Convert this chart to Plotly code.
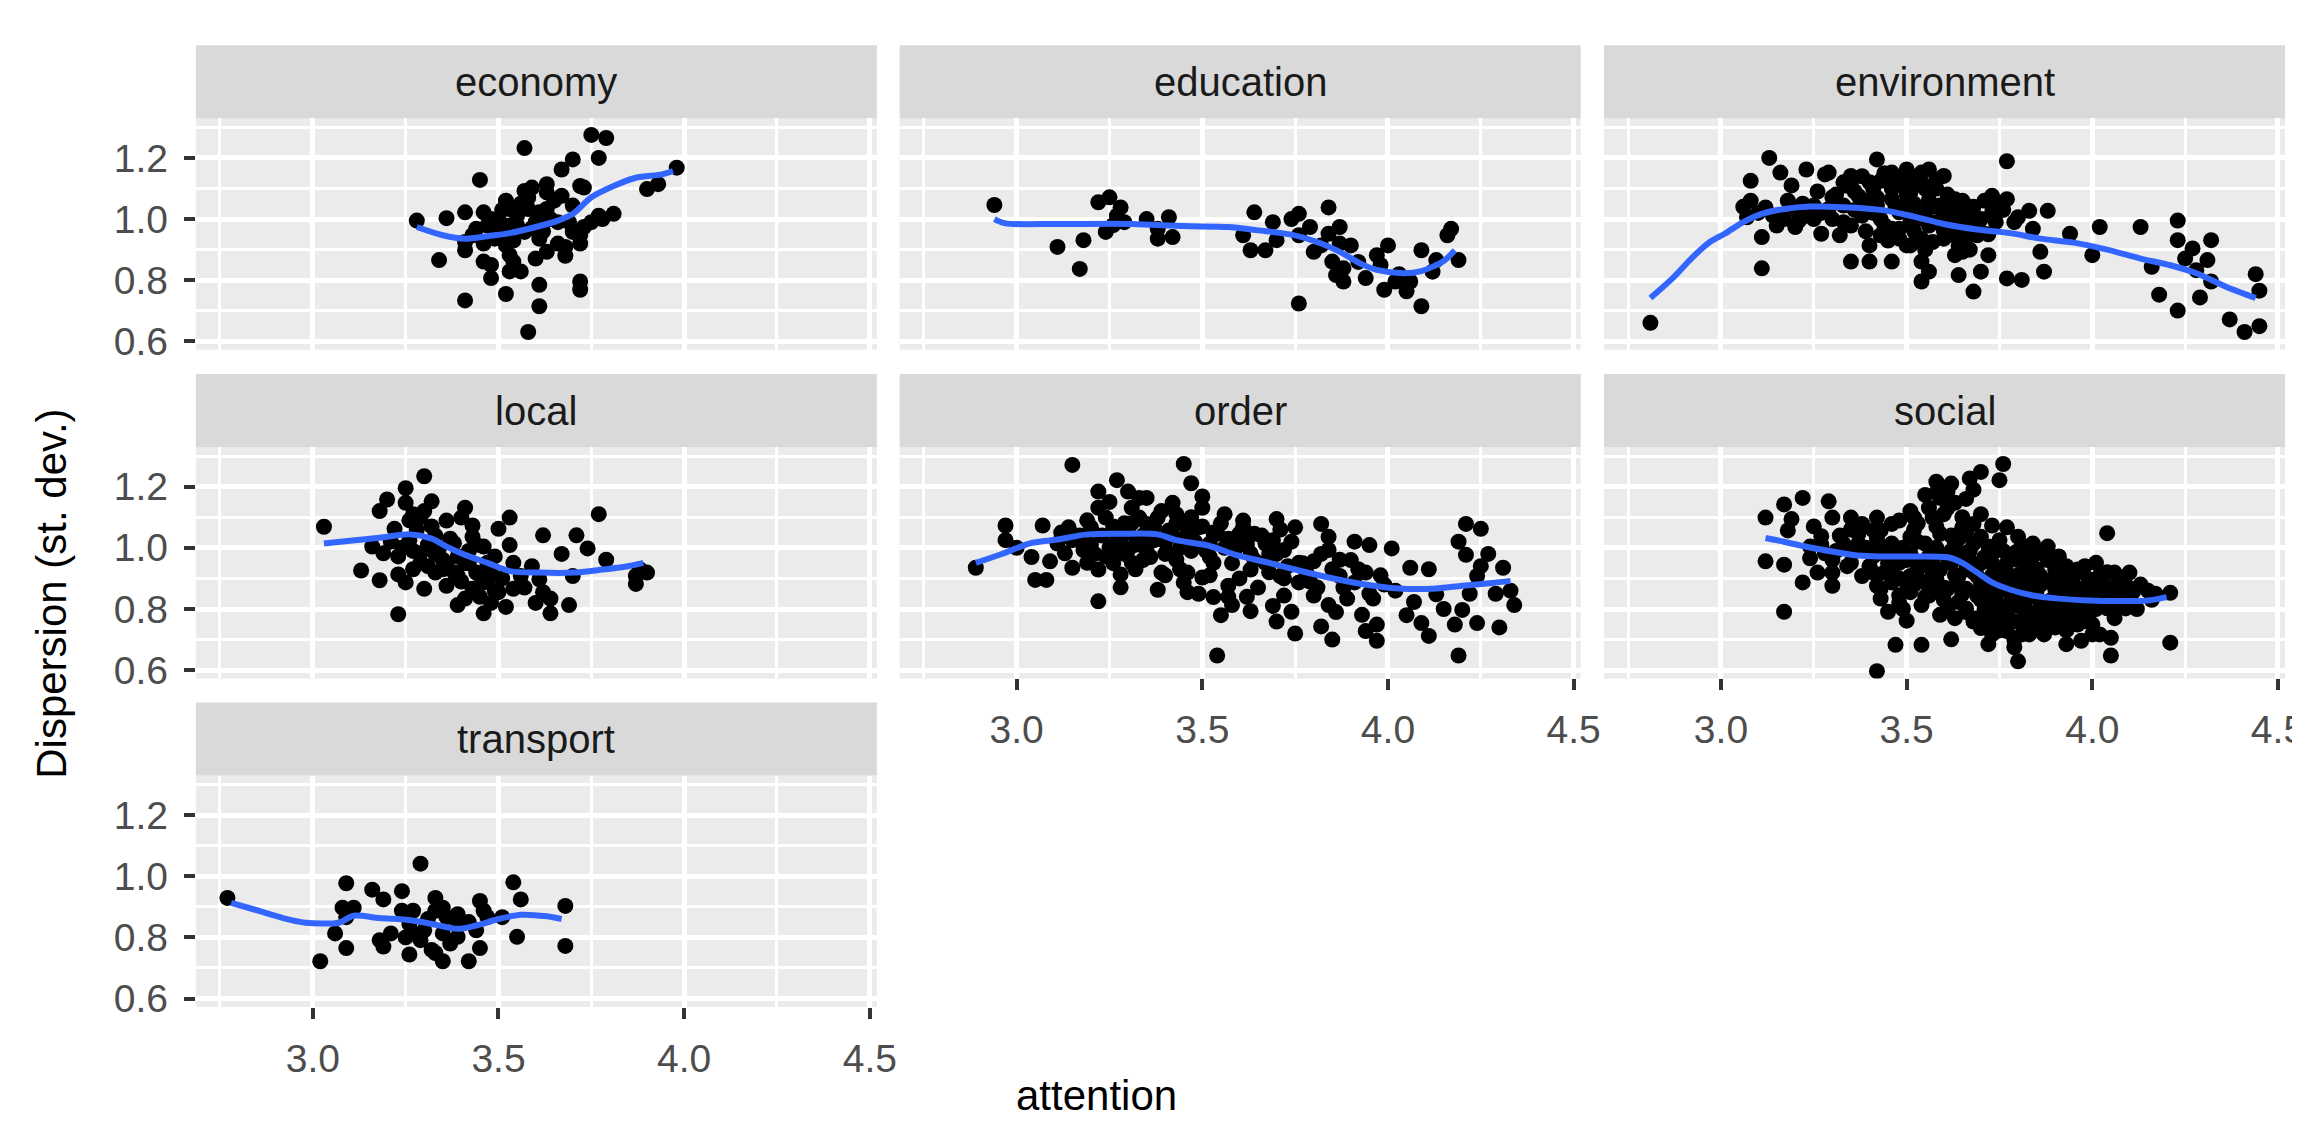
import plotly.graph_objects as go

# ---------------- data ----------------
facets = ["economy", "education", "environment", "local", "order", "social", "transport"]

economy_pts = [(3.28,0.995),(3.36,1.003),(3.41,1.022),(3.45,1.128),(3.46,1.022),(3.57,1.232),(3.34,0.866),(3.41,0.898),(3.41,0.734),(3.46,0.861),(3.48,0.850),(3.48,0.807),(3.52,0.755),(3.53,0.829),(3.56,0.829),(3.61,0.785),(3.61,0.715),(3.58,0.631),(3.60,0.871),(3.63,0.893),(3.68,0.909),(3.72,0.920),(3.72,0.796),(3.72,0.769),(3.70,0.958),(3.73,0.974),(3.77,1.011),(3.81,1.017),(3.73,1.103),(3.72,1.108),(3.67,1.076),(3.63,1.087),(3.63,1.114),(3.59,1.103),(3.57,1.092),(3.67,1.162),(3.70,1.195),(3.77,1.200),(3.75,1.275),(3.79,1.265),(3.98,1.168),(3.93,1.114),(3.90,1.098),
(3.52,1.06),(3.53,1.033),(3.50,1.0),(3.55,1.011),(3.58,1.033),(3.61,1.022),(3.64,1.0),(3.53,0.979),(3.57,0.958),(3.50,0.947),(3.52,0.914),(3.49,0.936),(3.44,0.968),(3.47,0.979),(3.43,0.947),(3.61,0.936),(3.60,0.990),(3.53,0.882),(3.54,0.861),(3.46,0.920),(3.41,0.925),(3.66,0.990),(3.63,1.033),(3.70,1.044),(3.69,0.990),(3.72,0.947),(3.75,0.990),(3.78,1.0),
(3.51,0.97),(3.55,0.98),(3.56,1.05),(3.59,0.97),(3.62,0.96),(3.65,1.06),(3.54,0.93),(3.48,1.0),(3.51,1.03),(3.58,1.07),(3.66,0.92),(3.68,0.88)]

education_pts = [(2.94,1.046),(3.11,0.909),(3.18,0.931),(3.17,0.837),(3.22,1.055),(3.25,1.071),(3.28,1.038),(3.24,0.958),(3.26,0.98),(3.27,1.011),(3.35,1.0),(3.41,1.006),(3.38,0.936),(3.42,0.941),(3.38,0.968),(3.61,0.947),(3.64,1.022),(3.63,0.898),(3.67,0.898),(3.70,0.931),(3.69,0.990),(3.74,1.0),(3.76,1.017),(3.84,1.038),(3.79,0.974),(3.80,0.893),(3.84,0.952),(3.87,0.974),(3.87,0.920),(3.85,0.861),(3.88,0.839),(3.86,0.817),(3.88,0.796),(3.90,0.914),(3.94,0.807),(3.97,0.882),(3.98,0.850),(4.00,0.914),(3.99,0.769),(4.02,0.796),(4.05,0.764),(4.06,0.796),(4.09,0.898),(4.09,0.715),(4.12,0.828),(4.13,0.866),(4.16,0.947),(4.17,0.968),(4.19,0.866),(3.76,0.724),(3.76,0.947),(3.82,0.914),(3.92,0.86),(4.03,0.82),(3.29,0.99)]

environment_pts = [(2.81,0.661),(3.11,0.839),(3.13,1.20),(3.16,1.152),(3.08,1.125),(3.08,1.06),(3.07,1.006),(3.11,0.941),(3.12,1.038),(3.15,0.979),(3.18,1.06),(3.23,1.162),(3.28,1.146),(3.29,1.152),(3.20,0.974),(3.23,1.011),(3.27,0.952),(3.32,0.947),(3.30,1.071),(3.35,1.141),(3.34,1.109),(3.35,0.979),(3.35,0.861),(3.40,0.914),(3.40,0.861),(3.42,1.195),(3.46,0.861),(3.43,1.125),(3.46,1.152),(3.50,1.162),(3.54,1.119),(3.56,1.162),(3.60,1.141),(3.51,1.087),(3.46,1.065),(3.42,1.044),(3.48,1.022),(3.51,0.990),(3.46,0.968),(3.48,0.936),(3.51,0.914),(3.54,0.936),(3.56,0.979),(3.57,0.925),(3.54,0.861),(3.56,0.828),(3.54,0.796),(3.63,1.065),(3.66,1.044),(3.60,1.022),(3.64,1.0),(3.67,1.022),(3.73,1.076),(3.77,1.065),(3.77,1.189),(3.73,1.022),(3.70,0.958),(3.66,0.936),(3.64,0.914),(3.63,0.882),(3.60,0.963),(3.72,0.882),(3.70,0.828),(3.64,0.817),(3.68,0.763),(3.77,0.806),(3.81,0.801),(3.80,1.006),(3.83,1.027),(3.88,1.027),(3.84,0.968),(3.86,0.893),(3.87,0.828),(3.94,0.952),(4.00,0.882),(4.02,0.974),(4.13,0.974),(4.23,0.995),(4.23,0.931),(4.27,0.904),(4.25,0.871),(4.16,0.844),(4.28,0.833),(4.31,0.866),(4.32,0.931),(4.32,0.796),(4.18,0.753),(4.23,0.701),(4.29,0.744),(4.37,0.672),(4.41,0.631),(4.45,0.65),(4.44,0.82),(4.45,0.766),
(3.25,1.0),(3.29,1.033),(3.33,1.044),(3.37,1.076),(3.41,1.098),(3.43,1.0),(3.38,1.011),(3.33,0.990),(3.30,1.0),(3.25,1.044),(3.21,0.995),(3.17,1.0),(3.14,1.011),(3.56,1.087),(3.59,1.044),(3.55,1.022),(3.51,1.044),(3.47,1.109),(3.54,1.152),(3.43,0.947),(3.48,0.968),(3.50,0.914),(3.60,0.936),(3.63,0.947),(3.65,0.990),(3.69,0.947),(3.65,0.893),(3.74,1.044),(3.74,0.990),
(3.45,1.13),(3.52,1.13),(3.58,1.10),(3.62,1.05),(3.39,1.06),(3.36,1.03),(3.44,0.98),(3.53,1.0),(3.58,0.99),(3.68,0.99),(3.71,1.06),(3.06,1.04),(3.10,1.02),(3.20,1.03),(3.35,1.12),(3.49,1.04),(3.56,1.06),(3.62,0.98),(3.67,0.90),(3.79,0.99),
(3.31,1.08),(3.33,1.12),(3.36,1.09),(3.38,1.14),(3.40,1.12),(3.42,1.07),(3.44,1.15),(3.46,1.10),(3.47,1.04),(3.49,1.13),(3.50,1.08),(3.52,1.05),(3.53,1.14),(3.55,1.10),(3.57,1.04),(3.58,1.13),(3.61,1.08),(3.63,1.02),(3.65,1.06),(3.68,1.04),(3.70,1.00),(3.52,0.96),(3.55,0.90),(3.45,0.93),(3.39,0.96),(3.41,1.02),(3.60,0.99),(3.66,0.96),(3.72,0.95),(3.76,1.03),(3.26,1.09),(3.22,1.05),(3.19,1.11),(3.27,1.02)]

local_pts = [(3.03,1.069),(3.13,0.926),(3.18,0.894),(3.18,1.120),(3.20,1.158),(3.25,1.195),(3.30,1.234),(3.25,1.147),(3.32,1.152),(3.27,1.11),(3.30,1.120),(3.41,1.131),(3.36,1.089),(3.40,1.099),(3.43,1.073),(3.22,1.062),(3.26,1.025),(3.16,1.004),(3.19,0.982),(3.23,0.972),(3.29,0.982),(3.29,0.951),(3.35,0.961),(3.39,0.972),(3.46,1.004),(3.49,0.972),(3.50,1.062),(3.53,1.099),(3.53,1.009),(3.62,1.041),(3.71,1.041),(3.74,0.998),(3.67,0.980),(3.77,1.110),(3.79,0.961),(3.87,0.908),(3.90,0.919),(3.87,0.882),(3.70,0.908),(3.23,0.913),(3.25,0.887),(3.30,0.866),(3.36,0.876),(3.33,0.919),(3.39,0.908),(3.44,0.919),(3.46,0.887),(3.43,0.866),(3.41,0.834),(3.39,0.813),(3.46,0.786),(3.52,0.807),(3.50,0.855),(3.54,0.866),(3.54,0.951),(3.59,0.940),(3.61,0.897),(3.62,0.855),(3.64,0.834),(3.64,0.786),(3.69,0.813),(3.56,0.908),(3.23,0.783),(3.47,0.951),(3.38,1.015),(3.43,1.036),
(3.28,1.06),(3.33,1.04),(3.37,1.03),(3.31,1.01),(3.35,0.93),(3.42,0.95),(3.48,0.92),(3.51,0.90),(3.45,0.84),(3.57,0.87),(3.60,0.82),(3.27,0.93),(3.21,1.02),(3.88,0.93),
(3.26,1.09),(3.29,1.10),(3.32,1.07),(3.34,1.00),(3.36,0.95),(3.38,0.92),(3.40,0.89),(3.42,0.99),(3.44,1.01),(3.45,0.91),(3.47,0.89),(3.49,0.86),(3.41,0.95),(3.31,0.94),(3.27,0.99),(3.24,1.00),(3.33,0.98),(3.48,0.82)]

order_pts = [(2.89,0.935),(2.97,1.073),(2.97,1.025),(3.07,1.073),(3.14,1.067),(3.15,1.271),(3.09,0.956),(3.15,0.935),(3.05,0.895),(3.08,0.895),(3.22,0.825),(3.22,1.184),(3.22,1.131),(3.27,1.221),(3.30,1.184),(3.33,1.163),(3.35,1.163),(3.31,1.131),(3.42,1.147),(3.45,1.274),(3.47,1.211),(3.50,1.168),(3.50,1.131),(3.56,1.110),(3.61,1.089),(3.64,1.046),(3.70,1.094),(3.75,1.067),(3.82,1.078),(3.84,1.036),(3.91,1.020),(3.95,1.009),(4.01,0.998),(4.06,0.935),(4.21,1.078),(4.25,1.062),(4.19,1.020),(4.21,0.977),(4.25,0.940),(4.31,0.935),(4.24,0.908),(4.29,0.850),(4.33,0.860),(4.34,0.813),(4.20,0.797),(4.18,0.749),(4.24,0.754),(4.19,0.648),(4.13,0.848),(4.07,0.823),(4.09,0.754),(4.11,0.712),(3.97,0.696),(3.93,0.781),(3.97,0.749),(3.94,0.728),(3.96,0.834),(3.94,0.919),(3.89,0.834),(3.87,0.961),(3.80,0.956),(3.84,0.813),(3.82,0.743),(3.80,0.844),(3.76,0.887),(3.74,0.791),(3.76,0.951),(3.71,0.908),(3.72,0.844),(3.70,0.759),(3.63,0.793),(3.57,0.876),(3.58,0.813),(3.53,0.839),(3.54,0.648),(3.53,0.951),(3.50,0.903),(3.46,0.855),(3.45,0.887),(3.46,0.919),(3.43,0.961),(3.39,0.919),(3.38,0.863),(3.41,0.982),(3.45,1.014),(3.52,1.014),(3.54,1.046),(3.60,1.046),(3.63,0.982),(3.67,0.951),(3.63,0.929),(3.67,1.014),(3.69,1.025),(3.72,0.993),(3.28,0.871),(3.28,0.913),(3.31,0.951),(3.30,0.993),(3.24,0.972),(3.22,0.929),(3.19,0.951),(3.18,0.993),(3.13,0.982),(3.11,1.014),(3.20,1.067),(3.24,1.099),(3.27,1.057),(3.33,1.099),(3.35,1.078),(3.38,1.099),(3.41,1.057),(3.45,1.078),(3.49,1.067),(3.33,1.014),(3.37,1.025),(3.27,1.025),(3.15,1.025),(3.84,0.993),(3.87,0.908),(3.91,0.887),
(3.25,1.15),(3.29,1.08),(3.36,1.05),(3.40,1.02),(3.43,1.11),(3.47,0.99),(3.52,0.97),(3.56,1.00),(3.58,0.95),(3.60,0.90),(3.65,0.87),(3.68,0.98),(3.71,1.06),(3.73,0.94),(3.78,0.92),(3.81,0.87),(3.86,0.79),(3.90,0.96),(3.99,0.88),(4.02,0.86),(4.05,0.78),(4.15,0.80),(4.27,0.98),(4.30,0.74),(3.17,1.04),(3.21,0.98),(3.26,0.95),(3.32,0.93),(3.36,0.97),(3.44,0.93),(3.49,0.85),(3.55,0.78),(3.62,0.84),(3.69,0.81),(3.75,0.72),(3.85,0.70),(4.11,0.93),(4.22,0.85),(3.00,1.00),(3.04,0.97),
(3.20,1.01),(3.23,1.04),(3.25,1.00),(3.26,1.07),(3.28,1.03),(3.29,0.98),(3.30,1.05),(3.31,1.08),(3.32,1.01),(3.34,1.04),(3.35,0.99),(3.37,1.07),(3.38,1.03),(3.39,1.12),(3.40,0.98),(3.42,1.04),(3.43,1.08),(3.44,1.00),(3.46,1.05),(3.47,1.10),(3.48,1.02),(3.50,1.07),(3.51,0.99),(3.53,1.05),(3.55,1.08),(3.57,1.03),(3.59,1.00),(3.61,1.07),(3.62,1.01),(3.64,0.96),(3.66,1.04),(3.68,0.92),(3.70,0.98),(3.72,0.90),(3.74,1.02),(3.77,0.95),(3.79,0.89),(3.82,0.98),(3.85,0.93),(3.88,0.87),(3.92,0.93),(3.95,0.85),(3.98,0.91),(3.34,0.96),(3.26,0.99),(3.19,1.09),(3.12,1.05),(3.40,0.91),(3.52,0.91),(3.57,0.84)]

social_pts = [(3.12,1.099),(3.12,0.956),(3.17,0.945),(3.17,0.791),(3.17,1.142),(3.22,1.163),(3.19,1.094),(3.18,1.057),(3.27,1.038),(3.24,0.966),(3.22,0.887),(3.30,0.876),(3.30,0.919),(3.26,0.919),(3.29,1.152),(3.30,1.099),(3.35,1.099),(3.34,0.940),(3.42,0.597),(3.47,0.683),(3.54,0.683),(3.62,0.701),(3.50,0.762),(3.45,0.791),(3.43,0.834),(3.42,0.876),(3.41,0.919),(3.41,0.972),(3.37,1.014),(3.41,1.057),(3.42,1.099),(3.46,1.078),(3.51,1.120),(3.56,1.131),(3.55,1.173),(3.58,1.216),(3.61,1.184),(3.63,1.147),(3.60,1.110),(3.67,1.227),(3.70,1.248),(3.76,1.274),(3.75,1.221),(3.68,1.078),(3.73,1.073),(3.77,1.067),(4.04,1.048),(3.80,1.036),(3.84,1.014),(3.88,1.004),(3.91,0.972),(4.01,0.951),(4.06,0.919),(4.10,0.919),(4.08,0.897),(4.11,0.857),(4.21,0.853),(4.21,0.690),(4.09,0.802),(4.05,0.648),(4.05,0.706),(4.00,0.717),(3.93,0.685),(3.96,0.749),(3.80,0.629),(3.79,0.675),(3.72,0.685),(3.70,0.738),(3.68,0.759),(3.74,0.781),(3.83,0.717),(3.86,0.749),(3.90,0.781),(3.95,0.802),(4.00,0.813),(4.02,0.834),(3.97,0.866),(3.92,0.844),(3.87,0.823),(3.82,0.802),(3.78,0.823),(3.77,0.781),(3.75,0.866),(3.81,0.887),(3.86,0.908),(3.91,0.919),(3.95,0.908),(3.99,0.897),(3.82,0.951),(3.77,0.919),(3.73,0.951),(3.72,1.004),(3.79,0.982),(3.84,0.972),(3.69,0.908),(3.66,0.866),(3.64,0.823),(3.59,0.781),(3.54,0.813),(3.48,0.844),(3.46,0.887),(3.51,0.908),(3.56,0.887),(3.61,0.866),(3.64,0.908),(3.59,0.929),(3.54,0.951),(3.48,0.951),(3.44,0.919),(3.46,1.014),(3.51,1.036),(3.55,1.014),(3.59,1.046),(3.63,1.014),(3.65,0.982),(3.68,1.014),(3.56,0.972),(3.51,0.982),(3.43,1.004),(3.37,1.046),(3.33,1.014),(3.28,0.982),(3.24,1.004),(3.30,0.961),(3.35,0.951),(3.38,0.908),(3.43,0.866),(3.51,0.855),(3.56,0.844),(3.61,0.802),(3.66,0.802),(3.72,0.823),(3.69,0.844),(3.74,0.887),(3.79,0.844),(3.84,0.866),(3.90,0.866),(3.93,0.940),(3.90,0.929),(3.92,0.887),(4.01,0.866),(4.06,0.834),(4.04,0.802),(3.99,0.781),(3.92,0.759),(3.88,0.738),(3.77,0.728),(3.73,0.717),(3.82,0.759),(3.81,0.717),(3.87,0.717),(4.02,0.717),(3.97,0.696),(3.59,1.163),(3.57,1.099),(3.52,1.099),(3.48,1.089),(3.43,1.057),(3.38,1.078),(3.65,1.067),(3.70,1.036),(3.75,1.025),(3.82,1.004),(3.87,0.982),(3.96,0.929),
(3.47,0.97),(3.53,0.93),(3.58,0.90),(3.62,0.95),(3.66,0.93),(3.70,0.88),(3.74,0.84),(3.78,0.90),(3.83,0.84),(3.88,0.80),(3.94,0.83),(3.98,0.85),(4.03,0.88),(4.08,0.85),(3.85,0.93),(3.80,0.96),(3.76,0.99),(3.71,0.97),(3.67,0.96),(3.62,0.99),(3.57,0.96),(3.52,1.06),(3.49,1.00),(3.45,0.95),(3.40,0.94),(3.36,0.99),(3.32,1.04),(3.63,0.77),(3.71,0.80),(3.76,0.76),(3.84,0.78),(3.90,0.74),(3.95,0.77),(4.00,0.75),(4.06,0.77),(4.12,0.80),(4.16,0.83),(3.65,1.10),(3.62,1.21),(3.66,1.16),(3.58,0.86),(3.54,0.89),(3.49,0.80),(3.70,1.11),(3.79,0.70),(3.98,0.94),(4.02,0.91),(3.86,0.88),(3.80,0.81),(3.73,0.91),
(3.46,0.93),(3.48,0.90),(3.50,0.96),(3.52,0.88),(3.53,1.02),(3.55,0.95),(3.57,0.92),(3.58,1.00),(3.60,0.87),(3.61,0.97),(3.63,0.91),(3.64,1.03),(3.65,0.85),(3.67,0.99),(3.68,0.92),(3.70,0.95),(3.71,0.86),(3.72,0.78),(3.73,0.98),(3.74,0.93),(3.75,0.81),(3.76,0.89),(3.77,0.95),(3.78,0.85),(3.79,0.76),(3.80,0.91),(3.81,0.84),(3.82,0.79),(3.83,0.92),(3.84,0.74),(3.85,0.86),(3.86,0.81),(3.87,0.77),(3.88,0.89),(3.89,0.83),(3.90,0.76),(3.91,0.85),(3.92,0.80),(3.93,0.73),(3.94,0.87),(3.95,0.84),(3.96,0.79),(3.97,0.82),(3.98,0.76),(3.99,0.86),(4.01,0.80),(4.03,0.84),(4.05,0.87),(4.07,0.81),(4.10,0.84),(4.13,0.88),(4.15,0.86),(4.17,0.85),(3.55,0.84),(3.60,0.83),(3.66,0.79),(3.69,0.77),(3.72,0.75),(3.75,0.73),(3.50,0.86),(3.48,0.82),(3.44,0.98),(3.42,1.03),(3.39,1.00),(3.35,1.06),(3.31,0.99),(3.27,1.01),(3.25,1.07),(3.53,1.08),(3.58,1.07),(3.62,1.04),(3.66,1.05),(3.61,1.13),(3.68,1.19),(3.58,1.18),(3.64,0.88),(3.70,0.83),(3.78,0.88),(3.85,0.90),(3.92,0.91),(3.80,0.99),(3.88,0.96),(3.96,0.86),(4.04,0.92),(4.09,0.88)]

transport_pts = [(2.77,0.929),(3.02,0.722),(3.06,0.813),(3.09,0.977),(3.09,0.765),(3.08,0.897),(3.11,0.897),(3.09,0.866),(3.16,0.956),(3.19,0.924),(3.24,0.951),(3.18,0.791),(3.19,0.770),(3.21,0.813),(3.24,0.887),(3.26,0.744),(3.26,0.844),(3.27,0.813),(3.29,1.041),(3.29,0.791),(3.32,0.759),(3.33,0.929),(3.33,0.887),(3.35,0.897),(3.35,0.722),(3.33,0.749),(3.36,0.866),(3.35,0.813),(3.39,0.802),(3.39,0.876),(3.39,0.839),(3.42,0.722),(3.45,0.919),(3.46,0.887),(3.45,0.765),(3.44,0.823),(3.47,0.866),(3.51,0.866),(3.54,0.980),(3.56,0.924),(3.55,0.802),(3.68,0.903),(3.68,0.772),(3.27,0.887),(3.30,0.823),(3.31,0.86),(3.37,0.78),(3.42,0.85),(3.25,0.80)]

# smoothed (loess) curves
economy_fit_x = [3.28,3.35,3.41,3.47,3.53,3.60,3.66,3.70,3.75,3.81,3.87,3.94,3.97]
economy_fit_y = [0.974,0.947,0.936,0.944,0.954,0.974,0.995,1.017,1.071,1.108,1.135,1.146,1.157]
education_fit_x = [2.94,2.97,3.11,3.31,3.45,3.57,3.65,3.74,3.82,3.87,3.93,3.97,4.04,4.09,4.15,4.18]
education_fit_y = [1.0,0.986,0.984,0.984,0.977,0.974,0.963,0.949,0.920,0.893,0.852,0.834,0.823,0.830,0.863,0.898]
environment_fit_x = [2.81,2.87,2.92,2.97,3.01,3.06,3.11,3.17,3.24,3.33,3.43,3.51,3.60,3.69,3.78,3.86,3.95,4.04,4.13,4.21,4.28,4.36,4.44]
environment_fit_y = [0.742,0.807,0.871,0.925,0.952,0.990,1.017,1.033,1.041,1.039,1.030,1.011,0.984,0.966,0.954,0.936,0.923,0.900,0.871,0.849,0.823,0.779,0.742]
local_fit_x = [3.03,3.10,3.18,3.26,3.32,3.36,3.41,3.47,3.53,3.61,3.70,3.78,3.84,3.89]
local_fit_y = [1.014,1.023,1.033,1.044,1.030,1.004,0.977,0.951,0.924,0.919,0.919,0.929,0.938,0.951]
order_fit_x = [2.89,2.96,3.04,3.11,3.19,3.28,3.38,3.43,3.52,3.59,3.68,3.76,3.84,3.93,4.02,4.12,4.20,4.28,4.33]
order_fit_y = [0.951,0.980,1.016,1.027,1.044,1.046,1.044,1.025,1.006,0.977,0.951,0.926,0.903,0.882,0.868,0.866,0.876,0.885,0.892]
social_fit_x = [3.12,3.17,3.24,3.30,3.37,3.43,3.52,3.61,3.65,3.69,3.73,3.78,3.84,3.91,3.99,4.08,4.15,4.20]
social_fit_y = [1.032,1.020,1.001,0.988,0.975,0.972,0.972,0.969,0.951,0.919,0.887,0.863,0.844,0.834,0.828,0.826,0.828,0.839]
transport_fit_x = [2.78,2.84,2.92,2.98,3.07,3.11,3.18,3.26,3.32,3.39,3.44,3.50,3.56,3.63,3.67]
transport_fit_y = [0.913,0.892,0.863,0.848,0.848,0.871,0.863,0.857,0.844,0.828,0.839,0.860,0.874,0.869,0.860]

x_ticks = [3.0, 3.5, 4.0, 4.5]
x_tick_labels = ["3.0", "3.5", "4.0", "4.5"]
y_ticks = [0.6, 0.8, 1.0, 1.2]
y_tick_labels = ["0.6", "0.8", "1.0", "1.2"]
x_minor = [2.75, 3.25, 3.75, 4.25]
y_minor = [0.7, 0.9, 1.1, 1.3]

points = {"economy": economy_pts, "education": education_pts, "environment": environment_pts,
          "local": local_pts, "order": order_pts, "social": social_pts, "transport": transport_pts}
fits = {"economy": (economy_fit_x, economy_fit_y), "education": (education_fit_x, education_fit_y),
        "environment": (environment_fit_x, environment_fit_y), "local": (local_fit_x, local_fit_y),
        "order": (order_fit_x, order_fit_y), "social": (social_fit_x, social_fit_y),
        "transport": (transport_fit_x, transport_fit_y)}

# ---------------- layout geometry (pixels) ----------------
W, H = 2300, 1127
col_left = [189.5, 899.5, 1610.0]
col_w = 687.0
strip_top = [37.7, 370.3, 702.5]
strip_h = 74.0
panel_h = 234.0
XR = [2.685, 4.519]
YR = [0.573, 1.329]
FONT = "Liberation Sans, Arial, sans-serif"
TICK_SIZE = 39
STRIP_SIZE = 40
TITLE_SIZE = 42

fig = go.Figure()
layout = dict(width=W, height=H, margin=dict(l=0, r=0, t=0, b=0),
              paper_bgcolor="white", plot_bgcolor="#EBEBEB", showlegend=False,
              font=dict(family=FONT))
shapes, annotations = [], []

for i, name in enumerate(facets):
    r, c = divmod(i, 3)
    L = col_left[c]
    T = strip_top[r]
    xd = [L / W, min(1.0, (L + col_w) / W)]
    yd = [1 - (T + strip_h + panel_h) / H, 1 - (T + strip_h) / H]
    k = "" if i == 0 else str(i + 1)
    bottom = name in ("transport", "order", "social")
    left = c == 0
    layout["xaxis" + k] = dict(domain=xd, range=XR, anchor="y" + k, tickvals=x_ticks, ticktext=x_tick_labels,
                               showgrid=True, gridcolor="white", gridwidth=4.5, zeroline=False, showline=False,
                               ticks="outside" if bottom else "", ticklen=11, tickwidth=3.5, tickcolor="#333333",
                               showticklabels=bottom, ticklabelstandoff=6,
                               tickfont=dict(size=TICK_SIZE, color="#4D4D4D", family=FONT),
                               minor=dict(tickvals=x_minor, showgrid=True, gridcolor="white", gridwidth=2.5, ticks=""),
                               fixedrange=True)
    layout["yaxis" + k] = dict(domain=yd, range=YR, anchor="x" + k, tickvals=y_ticks, ticktext=y_tick_labels,
                               showgrid=True, gridcolor="white", gridwidth=4.5, zeroline=False, showline=False,
                               ticks="outside" if left else "", ticklen=11, tickwidth=3.5, tickcolor="#333333",
                               showticklabels=left, ticklabelstandoff=8,
                               tickfont=dict(size=TICK_SIZE, color="#4D4D4D", family=FONT),
                               minor=dict(tickvals=y_minor, showgrid=True, gridcolor="white", gridwidth=2.5, ticks=""),
                               fixedrange=True)
    pts = points[name]
    fig.add_trace(go.Scatter(x=[p[0] for p in pts], y=[p[1] for p in pts], mode="markers",
                             marker=dict(color="black", size=16, line=dict(width=0)),
                             xaxis="x" + k, yaxis="y" + k, hoverinfo="skip"))
    fx, fy = fits[name]
    fig.add_trace(go.Scatter(x=fx, y=fy, mode="lines", line=dict(color="#3366FF", width=6, shape="spline", smoothing=0.8),
                             xaxis="x" + k, yaxis="y" + k, hoverinfo="skip"))
    shapes.append(dict(type="rect", xref="paper", yref="paper", x0=xd[0], x1=xd[1],
                       y0=1 - (T + strip_h) / H, y1=1 - T / H, fillcolor="#D9D9D9", line=dict(width=0), layer="below"))
    annotations.append(dict(text=name, xref="paper", yref="paper", x=(L + col_w / 2) / W, y=1 - (T + strip_h / 2) / H,
                            showarrow=False, xanchor="center", yanchor="middle",
                            font=dict(size=STRIP_SIZE, color="#1A1A1A", family=FONT)))

annotations.append(dict(text="attention", xref="paper", yref="paper", x=1098 / W, y=1 - 1100 / H,
                        showarrow=False, xanchor="center", yanchor="middle",
                        font=dict(size=TITLE_SIZE, color="black", family=FONT)))
annotations.append(dict(text="Dispersion (st. dev.)", xref="paper", yref="paper", x=44 / W, y=1 - 593 / H,
                        showarrow=False, xanchor="center", yanchor="middle", textangle=-90,
                        font=dict(size=TITLE_SIZE, color="black", family=FONT)))
layout["shapes"] = shapes
layout["annotations"] = annotations
fig.update_layout(**layout)
fig.write_html("out.html")
